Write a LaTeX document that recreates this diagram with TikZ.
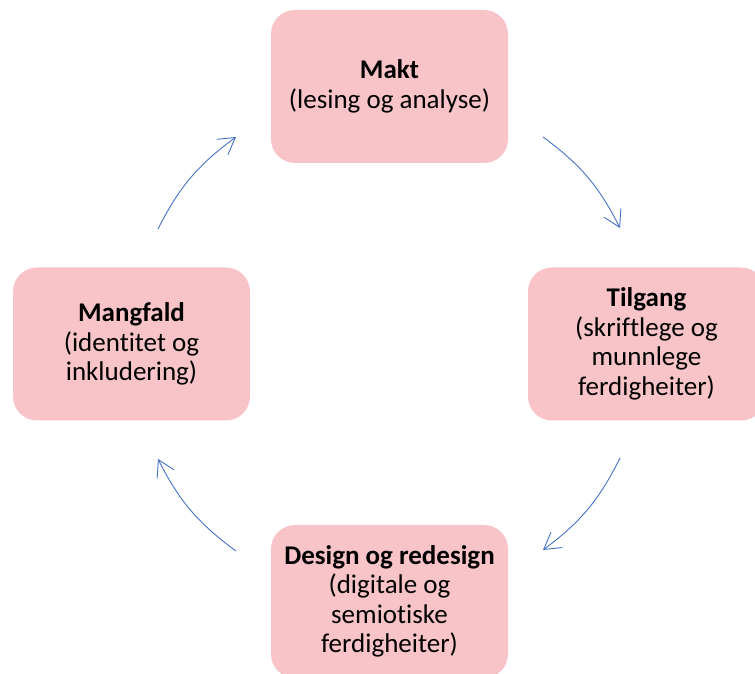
\documentclass[tikz,border=0pt]{standalone}
\usepackage{fontspec}
\setmainfont[Ligatures=NoCommon]{Carlito}
\usetikzlibrary{arrows.meta}
\definecolor{boxpink}{RGB}{248,196,199}
\definecolor{arrowblue}{RGB}{68,114,196}
\tikzset{
  cyclebox/.style={fill=boxpink, draw=none, rounded corners=24pt,
    minimum width=237pt, minimum height=153pt, align=center, inner sep=0pt,
    font=\fontsize{27pt}{29.5pt}\selectfont},
  cyclearrow/.style={draw=arrowblue, line width=0.9pt,
    -{Straight Barb[length=16pt,width=19pt,line width=0.9pt]}, bend left=13.5}
}
\begin{document}
\begin{tikzpicture}[x=1pt,y=1pt]
\useasboundingbox (0,0) rectangle (755,674);
\begin{scope}
\clip (0,0) rectangle (755,674);
\node[cyclebox] (makt) at (389.5,587.5) {\textbf{Makt}\\(lesing og analyse)};
\node[cyclebox] (tilgang) at (646.5,330) {\textbf{Tilgang}\\(skriftlege og\\munnlege\\ferdigheiter)};
\node[cyclebox] (mangfald) at (131.5,330) {\textbf{Mangfald}\\(identitet og\\inkludering)};
\node[cyclebox] (design) at (389.5,72.5) {\textbf{Design og redesign}\\(digitale og\\semiotiske\\ferdigheiter)};
\end{scope}
\coordinate (a1s) at (543,537);
\coordinate (a1e) at (620,446);
\coordinate (a2s) at (620,216);
\coordinate (a2e) at (543,124);
\coordinate (a3s) at (236,123);
\coordinate (a3e) at (158,215);
\coordinate (a4s) at (158,445);
\coordinate (a4e) at (236,537);
\draw[cyclearrow] (a1s) to (a1e);
\draw[cyclearrow] (a2s) to (a2e);
\draw[cyclearrow] (a3s) to (a3e);
\draw[cyclearrow] (a4s) to (a4e);
\end{tikzpicture}
\end{document}
